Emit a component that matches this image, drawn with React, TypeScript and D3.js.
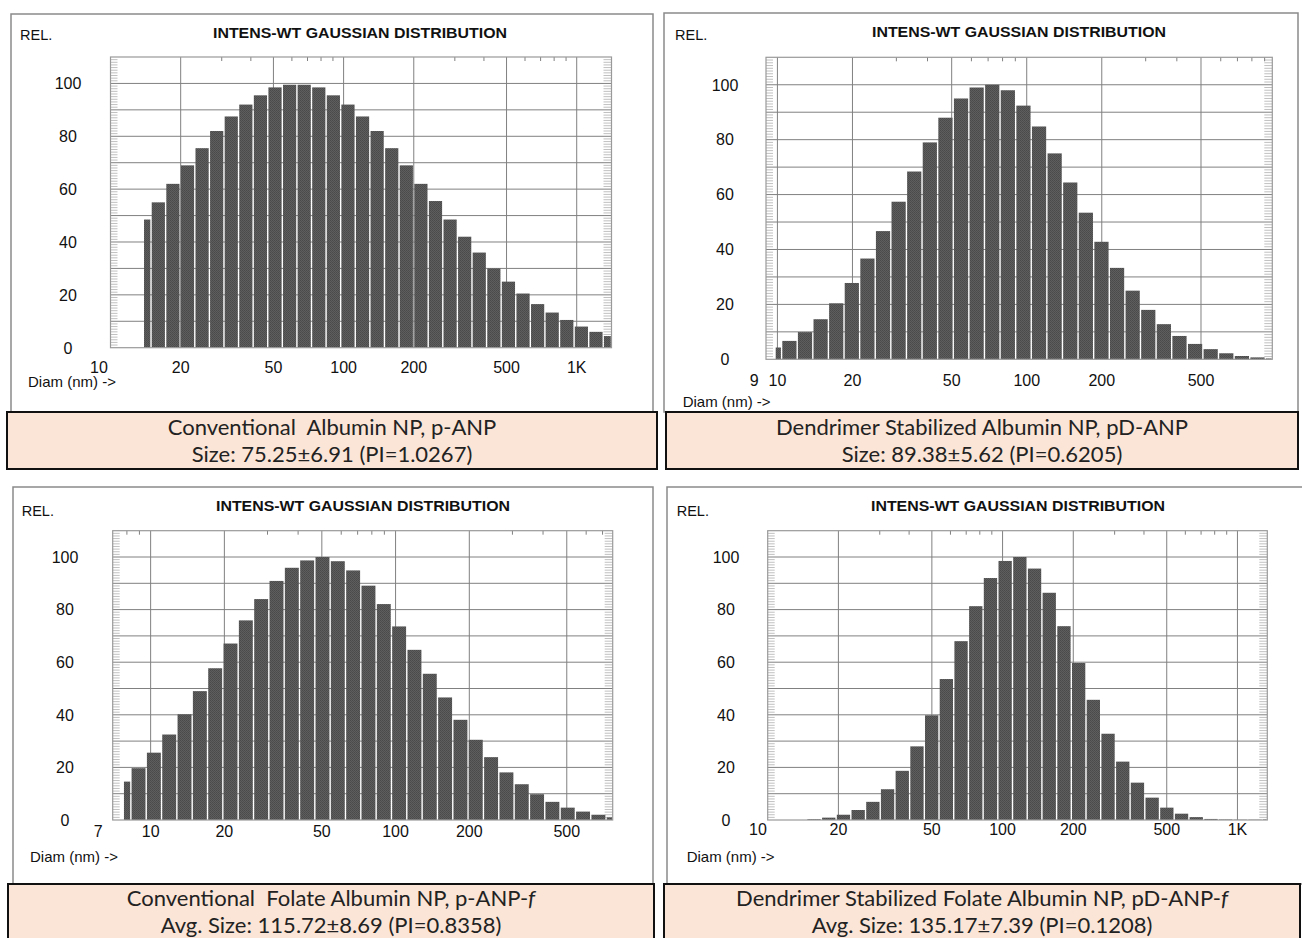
import React from 'react';
import * as d3 from 'd3';

/* ─── Instrument channels: log-spaced bins ─── */
const BIN_RATIO = 1.155;

/* ─── Relative intensity per channel ─── */
const pAnpValues = [48.5, 55, 62, 69, 75.5, 82, 87.5, 92, 95.5, 98.5, 99.5, 99.5, 98.5, 95.5, 92, 87.5, 82, 75.5, 69, 62, 55.5, 48.5, 42, 36, 30, 25, 20.5, 16.5, 13.3, 10.5, 8, 6, 4.4];
const pdAnpValues = [4.3, 6.7, 9.9, 14.6, 20.4, 27.8, 36.7, 46.7, 57.4, 68.4, 79, 88, 95, 99, 100, 98, 92.4, 84.8, 75, 64.4, 53.4, 42.8, 33.3, 25, 18, 12.8, 8.5, 5.6, 3.7, 2.2, 1.2, 0.7, 0.3];
const pAnpFValues = [14.6, 19.7, 25.6, 32.5, 40.2, 49, 57.7, 67.1, 75.9, 84, 90.9, 95.9, 98.7, 100, 98.4, 94.9, 89.1, 82.1, 73.6, 64.7, 55.6, 46.6, 38.1, 30.5, 23.9, 18.1, 13.6, 9.8, 6.9, 4.7, 3.2, 2, 1];
const pdAnpFValues = [0.3, 0.9, 2, 3.8, 6.9, 11.7, 18.7, 28, 39.8, 53.6, 68, 81.3, 92, 98.5, 100, 95.6, 86.4, 73.7, 59.7, 45.7, 32.8, 22.2, 14.2, 8.5, 4.7, 2.4, 1.1, 0.4, 0.2, 0.1, 0.1, 0.2];

/* first channel edge (nm) and lower cut of the first bar (nm) */
const channelStart = [12.92, 9.0, 7.19, 14.66];
const lowerCut = [13.83, 9.78, 7.73, 14.66];

/* x domains (nm) */
const xDomains: [number, number][] = [[10, 1410], [9, 966], [7, 770], [10, 1340]];

/* tick labels */
const xTicksK = [20, 50, 100, 200, 500, 1000];
const xTicks500 = [10, 20, 50, 100, 200, 500];
const edgeLabels = ['10', '9', '7', '10'];
const yTicks = [0, 20, 40, 60, 80, 100];

const captionTitles = [
    'Conventional\u00a0 Albumin NP, p-ANP',
    'Dendrimer Stabilized Albumin NP, pD-ANP',
    'Conventional\u00a0 Folate Albumin NP, p-ANP-',
    'Dendrimer Stabilized Folate Albumin NP, pD-ANP-',
];
const captionItalic = ['', '', 'f', 'f'];
const captionSizes = [
    'Size: 75.25±6.91 (PI=1.0267)',
    'Size: 89.38±5.62 (PI=0.6205)',
    'Avg. Size: 115.72±8.69 (PI=0.8358)',
    'Avg. Size: 135.17±7.39 (PI=0.1208)',
];

/* ─── Layout (pixels) ─── */
const LAYOUT = [
    { box: [11, 14, 642, 398], plot: [110.5, 611.5, 57, 347.7], yLab: 68, xLabY: 372.5, edgeX: 99, diam: [28, 387], rel: [20, 39.5], title: [360, 38], cap: [7, 412, 650, 57], capY: [435, 462] },
    { box: [664, 13, 634, 399], plot: [766, 1272.3, 57.3, 359.3], yLab: 725, xLabY: 385.5, edgeX: 754.3, diam: [682.7, 406.5], rel: [675, 39.5], title: [1019, 37], cap: [666, 412, 632, 57], capY: [435, 462] },
    { box: [13, 487, 640, 397], plot: [112.7, 612.7, 530.7, 820], yLab: 65, xLabY: 837, edgeX: 98.3, diam: [30, 861.5], rel: [21.7, 515.5], title: [363, 511], cap: [8, 884, 646, 70], capY: [906, 933] },
    { box: [667, 487, 640, 397], plot: [767.7, 1267.3, 530.7, 820], yLab: 726, xLabY: 834.5, edgeX: 758, diam: [686.7, 861.5], rel: [676.7, 515.5], title: [1018, 511], cap: [664, 884, 636, 70], capY: [906, 933] },
];

const SANS = "'Liberation Sans', Arial, sans-serif";
const CAP_FONT = "Lato, 'Open Sans', sans-serif";
const GRID = '#808080';

function Panel({ idx }: { idx: number }) {
    const L = LAYOUT[idx];
    const values = [pAnpValues, pdAnpValues, pAnpFValues, pdAnpFValues][idx];
    const domain = xDomains[idx];
    const ticks = idx === 0 || idx === 3 ? xTicksK : xTicks500;
    const [pl, pr, pt, pb] = L.plot;

    const x = d3.scaleLog().domain(domain).range([pl, pr]);
    const y = d3.scaleLinear().domain([0, 110]).range([pb, pt]);

    const bars = values.map((v, i) => {
        const a = Math.max(channelStart[idx] * Math.pow(BIN_RATIO, i), lowerCut[idx], domain[0]);
        const b = Math.min(channelStart[idx] * Math.pow(BIN_RATIO, i + 1), domain[1]);
        return { x0: x(a), x1: x(b), v };
    });

    // minor ticks along the top edge
    const minors: number[] = [];
    for (let dec = 1; dec <= 1000; dec *= 10) {
        for (let k = 2; k <= 9; k++) {
            const d = k * dec;
            if (d > domain[0] && d < domain[1] && !ticks.includes(d)) minors.push(d);
        }
    }
    const yMinor = d3.range(1, 110, 1).filter(d => d % 10 !== 0);
    const yGrid = d3.range(10, 110, 10);
    const fmt = (d: number) => (d >= 1000 ? d / 1000 + 'K' : String(d));

    return (
        <g>
            <rect x={L.box[0]} y={L.box[1]} width={L.box[2]} height={L.box[3]} fill="#fff" stroke="#8a8a8a" strokeWidth={1.5} />
            <text x={L.rel[0]} y={L.rel[1]} fontFamily={SANS} fontSize={14.5} fill="#111">REL.</text>
            <text x={L.title[0]} y={L.title[1]} textAnchor="middle" fontFamily={SANS} fontSize={14} fontWeight={700}
                textLength={294} lengthAdjust="spacingAndGlyphs" fill="#111">INTENS-WT GAUSSIAN DISTRIBUTION</text>

            {/* grid */}
            {yGrid.map(d => (
                <line key={'g' + d} x1={pl} x2={pr} y1={y(d)} y2={y(d)} stroke={GRID} strokeWidth={1} />
            ))}
            {ticks.map(d => (
                <line key={'v' + d} x1={x(d)} x2={x(d)} y1={pt} y2={pb} stroke={GRID} strokeWidth={1} />
            ))}
            {yMinor.map(d => (
                <g key={'m' + d}>
                    <line x1={pl} x2={pl + 7} y1={y(d)} y2={y(d)} stroke="#b0b0b0" strokeWidth={0.8} />
                    <line x1={pr - 8} x2={pr} y1={y(d)} y2={y(d)} stroke="#b0b0b0" strokeWidth={0.8} />
                </g>
            ))}
            {minors.map(d => (
                <line key={'t' + d} x1={x(d)} x2={x(d)} y1={pt} y2={pt + 4} stroke={GRID} strokeWidth={1} />
            ))}

            {/* bars */}
            {bars.map((b, i) => (
                <rect key={'b' + i} x={b.x0 + 0.7} y={y(b.v)} width={Math.max(0, b.x1 - b.x0 - 1.4)} height={pb - y(b.v)}
                    fill="url(#stipple)" />
            ))}

            <rect x={pl} y={pt} width={pr - pl} height={pb - pt} fill="none" stroke="#999" strokeWidth={1.2} />

            {/* axis labels */}
            {yTicks.map(d => (
                <text key={'yl' + d} x={L.yLab} y={y(d) + 5.8} textAnchor="middle" fontFamily={SANS} fontSize={16} fill="#111">{d}</text>
            ))}
            <text x={L.edgeX} y={L.xLabY} textAnchor="middle" fontFamily={SANS} fontSize={16} fill="#111">{edgeLabels[idx]}</text>
            {ticks.map(d => (
                <text key={'xl' + d} x={x(d)} y={L.xLabY} textAnchor="middle" fontFamily={SANS} fontSize={16} fill="#111">{fmt(d)}</text>
            ))}
            <text x={L.diam[0]} y={L.diam[1]} fontFamily={SANS} fontSize={15} fill="#111">Diam (nm) -&gt;</text>

            {/* caption */}
            <rect x={L.cap[0]} y={L.cap[1]} width={L.cap[2]} height={L.cap[3]} fill="#fbe5d6" stroke="#111" strokeWidth={2} />
            <text x={L.cap[0] + L.cap[2] / 2} y={L.capY[0]} textAnchor="middle" fontFamily={CAP_FONT} fontSize={22} fill="#222">
                {captionTitles[idx]}
                {captionItalic[idx] && <tspan fontStyle="italic">{captionItalic[idx]}</tspan>}
            </text>
            <text x={L.cap[0] + L.cap[2] / 2} y={L.capY[1]} textAnchor="middle" fontFamily={CAP_FONT} fontSize={22} fill="#222">
                {captionSizes[idx]}
            </text>
        </g>
    );
}

export default function App() {
    return (
        <div style={{ position: 'absolute', left: 0, top: 0 }}>
            <svg width={1302} height={938} style={{ display: 'block', background: '#fff' }}>
                <defs>
                    <pattern id="stipple" width={2} height={2} patternUnits="userSpaceOnUse">
                        <rect width={2} height={2} fill="#5e5e5e" />
                        <rect width={1} height={1} fill="#4a4a4a" />
                        <rect x={1} y={1} width={1} height={1} fill="#4e4e4e" />
                    </pattern>
                </defs>
                {[0, 1, 2, 3].map(i => <Panel key={i} idx={i} />)}
            </svg>
        </div>
    );
}
